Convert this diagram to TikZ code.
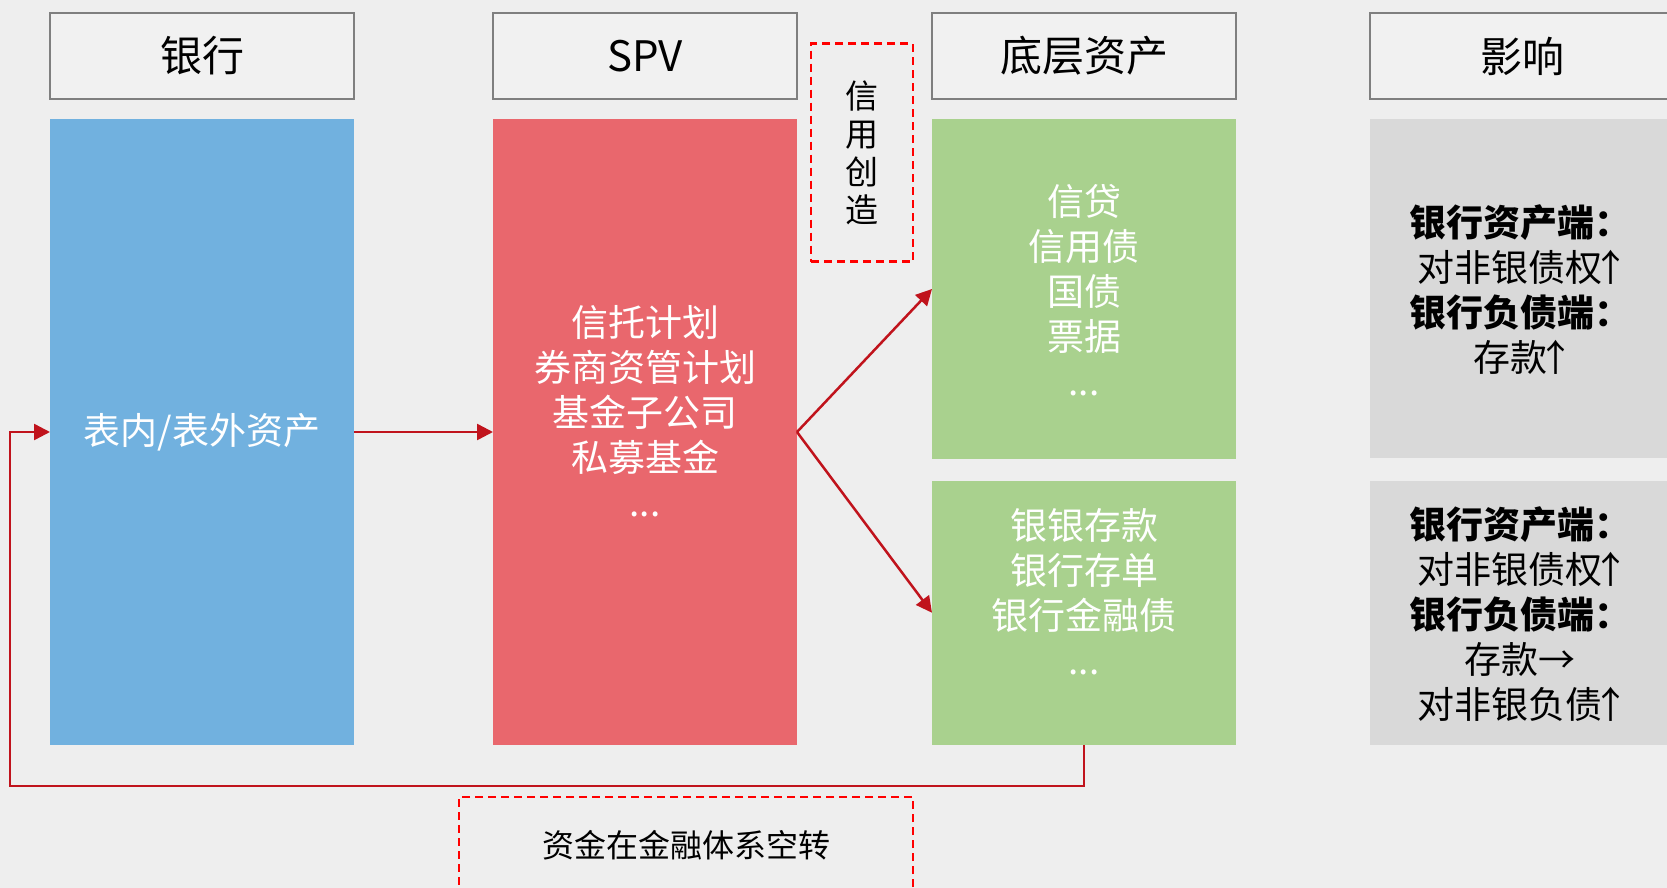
\documentclass[tikz,border=0pt]{standalone}
\usepackage{fontspec}
\setmainfont{Noto Sans CJK SC}
\usetikzlibrary{arrows.meta}
\definecolor{bg}{HTML}{EEEEEE}
\definecolor{hdrfill}{HTML}{F1F1F1}
\definecolor{hdrline}{HTML}{7F7F7F}
\definecolor{cblue}{HTML}{71B1DF}
\definecolor{cred}{HTML}{E9676D}
\definecolor{cgreen}{HTML}{A9D18E}
\definecolor{cgray}{HTML}{D9D9D9}
\definecolor{arrred}{HTML}{C0131C}
\definecolor{dashred}{HTML}{FF0000}
\newcommand{\uparrowtxt}{\kern-0.28em↑\kern-0.2em}
\begin{document}
\begin{tikzpicture}[x=1pt,y=-1pt,
  hdr/.style={draw=hdrline, line width=2.5pt, fill=hdrfill, minimum width=304pt, minimum height=86pt, inner sep=0pt, outer sep=0pt, anchor=north west, font=\fontsize{42}{50}\selectfont},
  colbox/.style={inner sep=0pt, outer sep=0pt, anchor=north west, minimum width=304pt},
  txt/.style={text=white, align=center, inner sep=0pt, font=\fontsize{37}{45}\selectfont},
  dtxt/.style={text=black, align=center, inner sep=0pt, font=\fontsize{37}{45}\selectfont},
  dbox/.style={draw=dashred, line width=2.5pt, dash pattern=on 8pt off 5pt, inner sep=0pt, outer sep=0pt, anchor=north west},
  arr/.style={draw=arrred, line width=2.5pt, -{Triangle[length=16pt,width=16pt]}}
]
\useasboundingbox (0,0) rectangle (1667,888);
\clip (0,0) rectangle (1667,888);
\fill[bg] (0,0) rectangle (1667,888);

% headers
\node[hdr] (h1) at (50,13) {银行};
\node[hdr] (h2) at (493,13) {SPV};
\node[hdr] (h3) at (932,13) {底层资产};
\node[hdr] (h4) at (1370,13) {影响};

% main boxes
\node[colbox, fill=cblue, minimum height=626pt] (bank) at (50,119) {};
\node[colbox, fill=cred, minimum height=626pt] (spv) at (493,119) {};
\node[colbox, fill=cgreen, minimum height=340pt] (ga) at (932,119) {};
\node[colbox, fill=cgreen, minimum height=264.5pt] (gb) at (932,480.5) {};
\node[colbox, fill=cgray, minimum height=339pt] (ia) at (1370,119) {};
\node[colbox, fill=cgray, minimum height=264.5pt] (ib) at (1370,480.5) {};

% texts
\node[txt] (t1) at (bank.center) {表内/表外资产};
\node[txt] (t2) at (645,411) {信托计划\\券商资管计划\\基金子公司\\私募基金\\...};
\node[txt] (t3) at (1084,290) {信贷\\信用债\\国债\\票据\\...};
\node[txt] (t4) at (1084,592) {银银存款\\银行存单\\银行金融债\\...};
\node[dtxt] (t5) at (1520,290) {\textbf{银行资产端：}\\对非银债权\uparrowtxt\\\textbf{银行负债端：}\\存款\uparrowtxt};
\node[dtxt] (t6) at (1520,614.5) {\textbf{银行资产端：}\\对非银债权\uparrowtxt\\\textbf{银行负债端：}\\存款→\\对非银负债\uparrowtxt};

% dashed boxes
\node[dbox, minimum width=102pt, minimum height=218pt, align=center, font=\fontsize{33}{38}\selectfont] (cc) at (811,43.6) {信\\用\\创\\造};
\node[dbox, minimum width=454pt, minimum height=130pt] (loop) at (459,797) {};
\node[dtxt, font=\fontsize{32}{38}\selectfont] (t7) at (686,845) {资金在金融体系空转};

% connectors
\draw[arr] (bank.east) -- (spv.west);
\draw[arr] (spv.east) -- (ga.west);
\draw[arr] (spv.east) -- (gb.west);
\coordinate (fb) at (10,786);
\draw[arr] (gb.south) |- (fb) |- (bank.west);
\end{tikzpicture}
\end{document}
